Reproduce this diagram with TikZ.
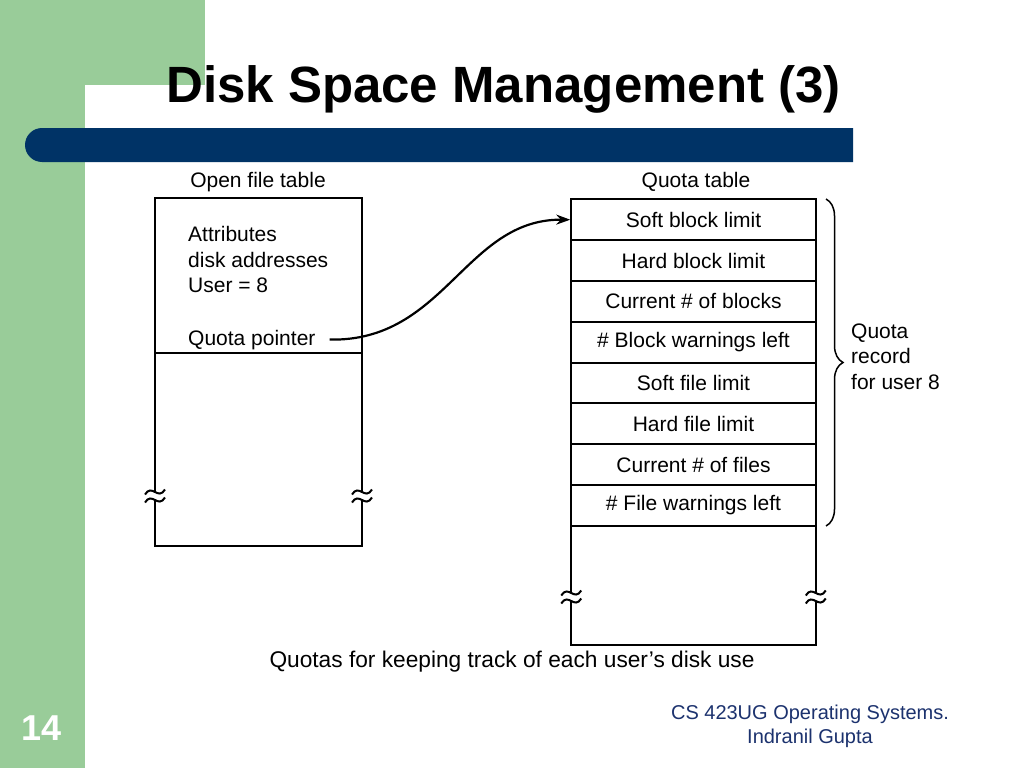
\documentclass[tikz,border=0pt]{standalone}
\usepackage{fontspec}
\setmainfont{Liberation Sans}
\usetikzlibrary{arrows.meta,decorations.pathreplacing}
\definecolor{slidegreen}{RGB}{153,204,153}
\definecolor{barblue}{RGB}{0,51,102}
\definecolor{footblue}{RGB}{28,50,110}
\newcommand\gapmark[2]{\draw[tildeline] (#1-10,#2+2.5) .. controls (#1-3,#2-9) and (#1+3,#2+9) .. (#1+10,#2-2.5);}
\begin{document}
\begin{tikzpicture}[x=1pt,y=-1pt,
  figtext/.style={font=\fontsize{21}{25.5}\selectfont, inner sep=0pt},
  rowbox/.style={draw, line width=2pt, minimum width=244.5pt, minimum height=40.8pt, inner sep=0pt, font=\fontsize{21}{25}\selectfont},
  frameline/.style={line width=2pt},
  tildeline/.style={line width=2pt}
]
\useasboundingbox (0,0) rectangle (1024,768);
% slide background
\fill[white] (0,0) rectangle (1024,768);
\fill[slidegreen] (0,0) rectangle (205,85);
\fill[slidegreen] (0,85) rectangle (85,768);
\fill[barblue] (853,128) -- (42,128) arc[start angle=90, end angle=270, radius=17pt] -- (853,162) -- cycle;
\node[anchor=base, inner sep=0pt, font=\bfseries\fontsize{51}{60}\selectfont] (title) at (503.5,102) {Disk Space Management (3)};
\node[anchor=base, inner sep=0pt, text=white, font=\bfseries\fontsize{36}{40}\selectfont] (pagenum) at (42,740) {14};

% open file table
\node[figtext, anchor=base] (oftlabel) at (258,187) {Open file table};
\draw[frameline] (155,492) -- (155,198) -- (362,198) -- (362,492);
\draw[frameline] (155,500) -- (155,546) -- (362,546) -- (362,500);
\draw[frameline] (155,353) -- (362,353);
\gapmark{155}{492}
\gapmark{155}{500}
\gapmark{362}{492}
\gapmark{362}{500}
\node[figtext, anchor=north west, align=left] (attrs) at (188,226.5) {Attributes\\disk addresses\\User = 8};
\node[figtext, anchor=base west] (qp) at (188,345) {Quota pointer};

% quota table
\node[figtext, anchor=base] (qtlabel) at (696,187) {Quota table};
\node[rowbox] (r1) at (693.5,219.7) {Soft block limit};
\node[rowbox] (r2) at (693.5,260.5) {Hard block limit};
\node[rowbox] (r3) at (693.5,301.3) {Current \# of blocks};
\node[rowbox] (r4) at (693.5,342.1) {\# Block warnings left};
\node[rowbox] (r5) at (693.5,382.9) {Soft file limit};
\node[rowbox] (r6) at (693.5,423.7) {Hard file limit};
\node[rowbox] (r7) at (693.5,464.5) {Current \# of files};
\node[rowbox] (r8) at (693.5,505.3) {\# File warnings left};
\draw[frameline] (571.25,525.7) -- (571.25,593);
\draw[frameline] (571.25,601) -- (571.25,645) -- (815.75,645) -- (815.75,601);
\draw[frameline] (815.75,525.7) -- (815.75,593);
\gapmark{571.25}{593}
\gapmark{571.25}{601}
\gapmark{815.75}{593}
\gapmark{815.75}{601}

% brace and label
\draw[line width=1.5pt, decorate, decoration={brace, amplitude=17pt}] (826,199) -- (826,526);
\node[figtext, anchor=north west, align=left] (qrec) at (851,323.5) {Quota\\record\\for user 8};

% pointer arrow
\draw[line width=2.2pt, -{Stealth[length=14pt,width=10pt]}] (qp.east) ++(14,0) .. controls (445,342) and (465,219) .. (r1.west);

% caption and footer
\node[anchor=base, inner sep=0pt, font=\fontsize{22.7}{26}\selectfont] (caption) at (512,667) {Quotas for keeping track of each user’s disk use};
\node[anchor=north, inner sep=0pt, align=center, text=footblue, font=\fontsize{20}{24.5}\selectfont] (footer) at (810,704.5) {CS 423UG Operating Systems.\\Indranil Gupta};
\end{tikzpicture}
\end{document}
